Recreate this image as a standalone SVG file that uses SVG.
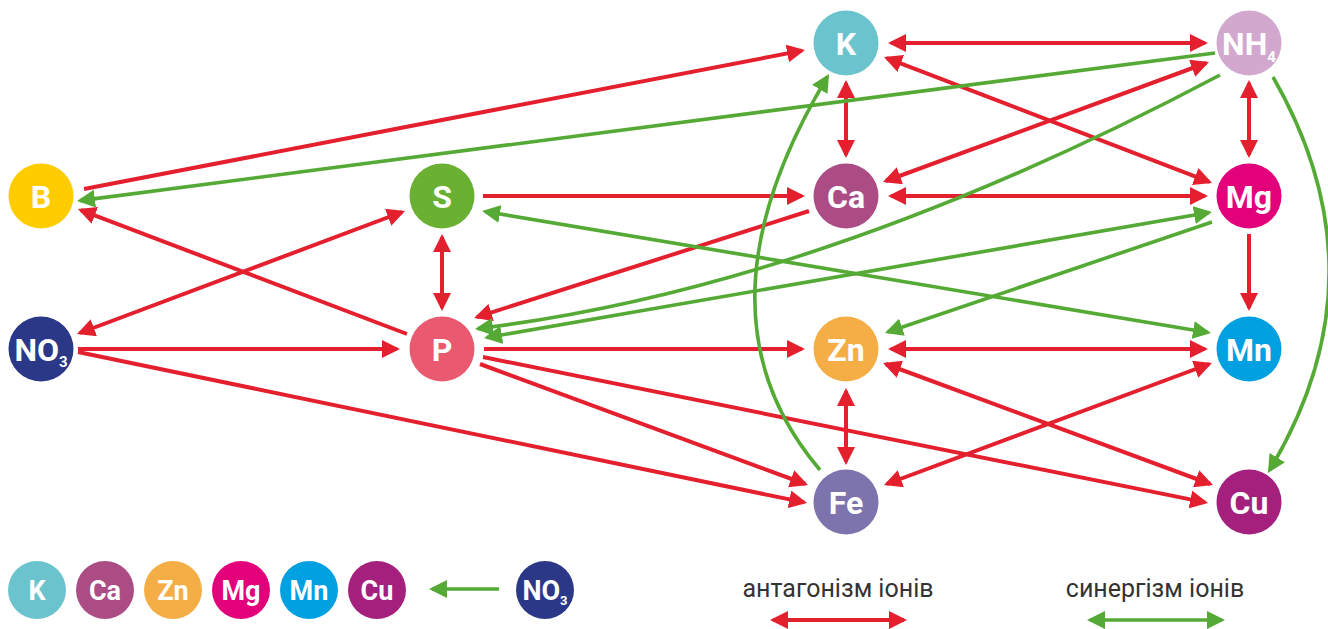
<svg xmlns="http://www.w3.org/2000/svg" width="1328" height="629" viewBox="0 0 1328 629">
<style>
.lbl{font-family:Roboto,"Liberation Sans",sans-serif;font-weight:700;font-size:32px;fill:#fff;text-anchor:middle}
.sm{font-size:27px}
.leg{font-family:Roboto,"Liberation Sans",sans-serif;font-weight:400;font-size:25px;fill:#333;text-anchor:middle}
.r{stroke:#E41F2E;stroke-width:4;fill:none}
.g{stroke:#55AA35;stroke-width:3.6;fill:none}
.rb{marker-start:url(#ar);marker-end:url(#ar)}
.re{marker-end:url(#ar)}
.gb{marker-start:url(#ag);marker-end:url(#ag)}
.ge{marker-end:url(#ag)}
</style>
<defs>
<marker id="ar" markerUnits="userSpaceOnUse" markerWidth="18" markerHeight="18" viewBox="0 0 18 18" refX="15" refY="9" orient="auto-start-reverse"><path d="M0,0 L18,9 L0,18 Z" fill="#E41F2E"/></marker>
<marker id="ag" markerUnits="userSpaceOnUse" markerWidth="18" markerHeight="18" viewBox="0 0 18 18" refX="15" refY="9" orient="auto-start-reverse"><path d="M0,0 L18,9 L0,18 Z" fill="#55AA35"/></marker>
</defs>
<rect width="1328" height="629" fill="#fff"/>
<g id="connectors">
<path class="r rb" d="M891,43 H1205"/>
<path class="r rb" d="M886.8,58.1 L1209.2,181.9"/>
<path class="r rb" d="M846,83 V155"/>
<path class="r rb" d="M1206.2,63 L885.8,181"/>
<path class="r rb" d="M1249,83 V155"/>
<path class="r rb" d="M891,196 H1205"/>
<path class="r rb" d="M79.8,333 L402.2,212"/>
<path class="r rb" d="M442,237 V308"/>
<path class="r rb" d="M891,349 H1205"/>
<path class="r rb" d="M885.8,364 L1210.2,484"/>
<path class="r rb" d="M886.8,484 L1209.2,364"/>
<path class="r rb" d="M846,391 V462"/>
<path class="r re" d="M84,189 L802,50.6"/>
<path class="r re" d="M407,334 L80.8,210.1"/>
<path class="r re" d="M78,349 H397"/>
<path class="r re" d="M78,352 L804.1,502.4"/>
<path class="r re" d="M483,196 H802"/>
<path class="r re" d="M809,211 L476.9,317.1"/>
<path class="r re" d="M484,349 H802"/>
<path class="r re" d="M480,364 L805.2,484"/>
<path class="r re" d="M483,357 L1205.1,502.4"/>
<path class="r re" d="M1249,234 V308"/>
<path class="g ge" d="M1215,53 L80,200.6"/>
<path class="g ge" d="M1220,75 Q820,287 478,328.6"/>
<path class="g ge" d="M1212,222 L887.8,332"/>
<path class="g ge" d="M820,470 Q686,312 827.5,76.6"/>
<path class="g ge" d="M1273,77 Q1387,275 1269.5,470.4"/>
<path class="g gb" d="M485,211.5 L1208,332.5"/>
<path class="g gb" d="M487,337.5 L1209,212.5"/>
<path class="g ge" d="M499,589 H432"/>
<path class="r rb" d="M773,620 H904"/>
<path class="g gb" d="M1090,620 H1222"/>
</g>
<g id="K"><circle cx="846" cy="43" r="32.5" fill="#6BC4CD"/><text class="lbl" x="846" y="54.5">K</text></g>
<g id="NH4"><circle cx="1249" cy="43" r="32.5" fill="#D2A8CF"/><text class="lbl" x="1249" y="54.5">NH<tspan font-size="15" dy="7">4</tspan></text></g>
<g id="B"><circle cx="41" cy="196" r="32.5" fill="#FFCC00"/><text class="lbl" x="41" y="207.5">B</text></g>
<g id="S"><circle cx="442" cy="196" r="32.5" fill="#6AB033"/><text class="lbl" x="442" y="207.5">S</text></g>
<g id="Ca"><circle cx="846" cy="196" r="32.5" fill="#AB4C85"/><text class="lbl" x="846" y="207.5">Ca</text></g>
<g id="Mg"><circle cx="1249" cy="196" r="32.5" fill="#E3007B"/><text class="lbl" x="1249" y="207.5">Mg</text></g>
<g id="NO3"><circle cx="41" cy="349" r="32.5" fill="#2B3787"/><text class="lbl" x="41" y="360.5">NO<tspan font-size="15" dy="6">3</tspan></text></g>
<g id="P"><circle cx="442" cy="349" r="32.5" fill="#E95A71"/><text class="lbl" x="442" y="360.5">P</text></g>
<g id="Zn"><circle cx="846" cy="349" r="32.5" fill="#F5AE45"/><text class="lbl" x="846" y="360.5">Zn</text></g>
<g id="Mn"><circle cx="1249" cy="349" r="32.5" fill="#00A0E1"/><text class="lbl" x="1249" y="360.5">Mn</text></g>
<g id="Fe"><circle cx="846" cy="502" r="32.5" fill="#7D74AD"/><text class="lbl" x="846" y="513.5">Fe</text></g>
<g id="Cu"><circle cx="1249" cy="502" r="32.5" fill="#A5207D"/><text class="lbl" x="1249" y="513.5">Cu</text></g>
<g id="legend">
<g id="lgK"><circle cx="37" cy="590" r="29" fill="#6BC4CD"/><text class="lbl sm" x="37" y="600">K</text></g>
<g id="lgCa"><circle cx="105" cy="590" r="29" fill="#AB4C85"/><text class="lbl sm" x="105" y="600">Ca</text></g>
<g id="lgZn"><circle cx="173" cy="590" r="29" fill="#F5AE45"/><text class="lbl sm" x="173" y="600">Zn</text></g>
<g id="lgMg"><circle cx="241" cy="590" r="29" fill="#E3007B"/><text class="lbl sm" x="241" y="600">Mg</text></g>
<g id="lgMn"><circle cx="309" cy="590" r="29" fill="#00A0E1"/><text class="lbl sm" x="309" y="600">Mn</text></g>
<g id="lgCu"><circle cx="377" cy="590" r="29" fill="#A5207D"/><text class="lbl sm" x="377" y="600">Cu</text></g>
<g id="lgNO3"><circle cx="545" cy="590" r="29" fill="#2B3787"/><text class="lbl sm" x="545" y="600">NO<tspan font-size="13" dy="5">3</tspan></text></g>
<text class="leg" x="838" y="597">антагонізм іонів</text>
<text class="leg" x="1155" y="597">синергізм іонів</text>
</g>
</svg>
